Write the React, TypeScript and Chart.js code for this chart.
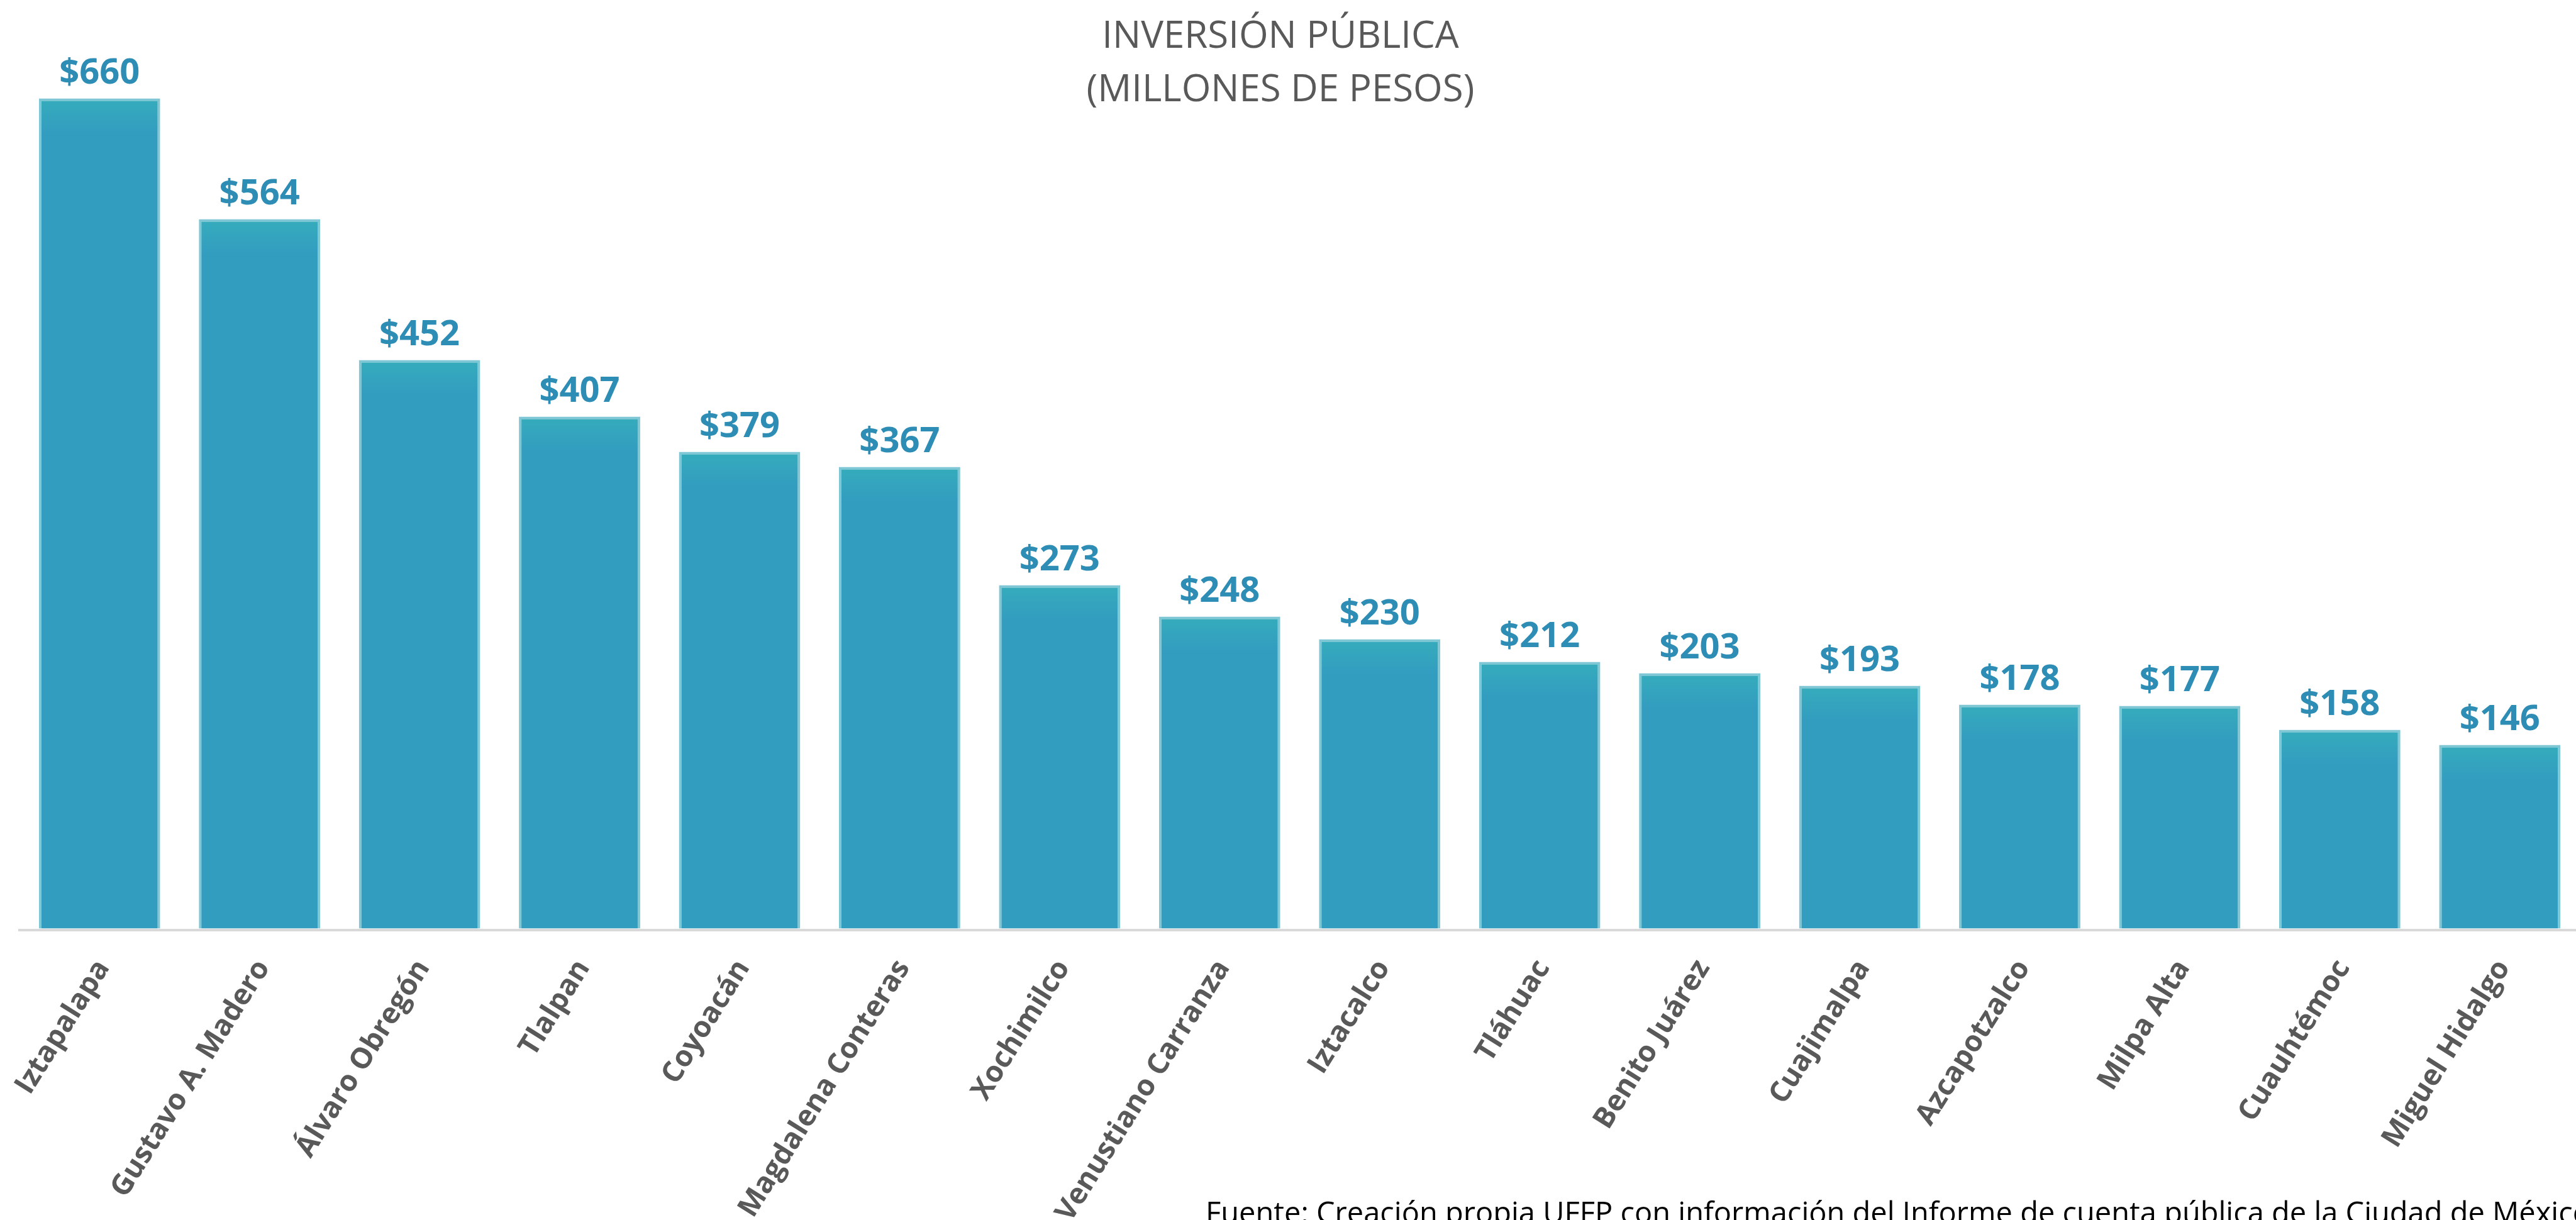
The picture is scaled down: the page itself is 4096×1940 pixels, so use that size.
import React, { useEffect, useRef } from 'react';
import { Chart, registerables } from 'chart.js';

Chart.register(...registerables);

const categories = [
  'Iztapalapa',
  'Gustavo A. Madero',
  'Álvaro Obregón',
  'Tlalpan',
  'Coyoacán',
  'Magdalena Conteras',
  'Xochimilco',
  'Venustiano Carranza',
  'Iztacalco',
  'Tláhuac',
  'Benito Juárez',
  'Cuajimalpa',
  'Azcapotzalco',
  'Milpa Alta',
  'Cuauhtémoc',
  'Miguel Hidalgo',
];
const values = [660, 564, 452, 407, 379, 367, 273, 248, 230, 212, 203, 193, 178, 177, 158, 146];
const titleLines = ['INVERSIÓN PÚBLICA', '(MILLONES DE PESOS)'];
const sourceNote =
  'Fuente: Creación propia UFFP con información del Informe de cuenta pública de la Ciudad de México';

const valueLabels = {
  id: 'valueLabels',
  afterDatasetsDraw(chart: any) {
    const ctx = chart.ctx;
    const meta = chart.getDatasetMeta(0);
    const data = chart.data.datasets[0].data;
    ctx.save();
    ctx.font = 'bold 56px "Open Sans"';
    ctx.fillStyle = '#2E8DB5';
    ctx.textAlign = 'center';
    ctx.textBaseline = 'alphabetic';
    meta.data.forEach((el: any, i: number) => {
      ctx.fillText('$' + data[i], el.x, el.y - 24);
    });
    ctx.restore();
  },
};

export default function App() {
  const canvasRef = useRef<HTMLCanvasElement | null>(null);

  useEffect(() => {
    document.body.style.margin = '0';
    document.body.style.overflow = 'hidden';
    document.documentElement.style.overflow = 'hidden';
    const canvas = canvasRef.current;
    if (!canvas) return;
    const chart = new Chart(canvas, {
      type: 'bar',
      data: {
        labels: categories,
        datasets: [
          {
            data: values,
            backgroundColor: (c: any) => {
              const ch = c.chart;
              if (!ch.chartArea || c.type !== 'data') return '#339DC0';
              const top = ch.scales.y.getPixelForValue(c.raw);
              const g = ch.ctx.createLinearGradient(0, top, 0, top + 55);
              g.addColorStop(0, '#35ACBC');
              g.addColorStop(1, '#339DC0');
              return g;
            },
            borderColor: '#80C7D5',
            borderWidth: 4,
            borderSkipped: 'bottom',
            barPercentage: 0.758,
            categoryPercentage: 1,
          },
        ],
      },
      options: {
        responsive: false,
        animation: false,
        devicePixelRatio: 1,
        layout: { padding: { top: 76.5, left: 31, right: 8, bottom: 0 } },
        plugins: {
          legend: { display: false },
          title: { display: false },
          tooltip: { enabled: false },
        },
        scales: {
          x: {
            grid: { display: false },
            border: { display: true, color: '#D9D9D9', width: 4 },
            ticks: {
              autoSkip: false,
              maxRotation: 58,
              minRotation: 58,
              padding: 30,
              labelOffset: 6,
              color: '#595959',
              font: { family: 'Open Sans', weight: 'bold', size: 46 },
            },
            afterFit: (scale: any) => {
              scale.height = 461.5;
              scale.paddingLeft = 0;
              scale.paddingRight = 0;
            },
          },
          y: {
            display: false,
            min: -1,
            max: 700,
          },
        },
      },
      plugins: [valueLabels],
    });
    return () => chart.destroy();
  }, []);

  return (
    <div
      style={{
        position: 'relative',
        width: 4096,
        height: 1940,
        overflow: 'hidden',
        background: '#ffffff',
      }}
    >
      <canvas
        ref={canvasRef}
        width={4110}
        height={1940}
        style={{ display: 'block', width: 4110, height: 1940 }}
      />
      <div
        style={{
          position: 'absolute',
          left: 1436,
          width: 1200,
          top: 11,
          textAlign: 'center',
          fontFamily: '"Open Sans", sans-serif',
          fontSize: 60,
          lineHeight: '85px',
          color: '#595959',
        }}
      >
        {titleLines.map((t) => (
          <div key={t}>{t}</div>
        ))}
      </div>
      <div
        style={{
          position: 'absolute',
          left: 1917,
          top: 1904,
          fontFamily: '"Open Sans", sans-serif',
          fontSize: 47,
          lineHeight: '47px',
          color: '#000000',
          whiteSpace: 'nowrap',
        }}
      >
        {sourceNote}
      </div>
    </div>
  );
}
